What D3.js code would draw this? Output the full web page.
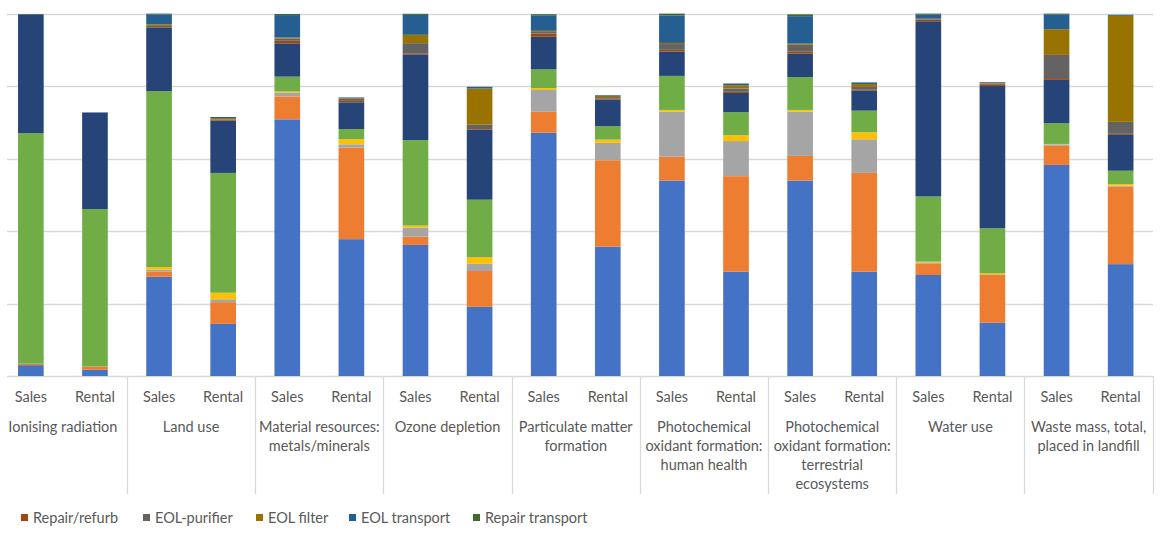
<!DOCTYPE html>
<html>
<head>
<meta charset="utf-8">
<script src="https://cdn.jsdelivr.net/npm/d3@7"></script>
<style>
  html, body { margin: 0; padding: 0; background: #fff; }
  svg { display: block; }
  text { font-family: Lato, "Liberation Sans", sans-serif; fill: #595959; }
</style>
</head>
<body>
<svg id="chart" width="1176" height="538"></svg>
<script>
// ---- Data ----
const categories = [
  ["Ionising radiation"],
  ["Land use"],
  ["Material resources:", "metals/minerals"],
  ["Ozone depletion"],
  ["Particulate matter", "formation"],
  ["Photochemical", "oxidant formation:", "human health"],
  ["Photochemical", "oxidant formation:", "terrestrial", "ecosystems"],
  ["Water use"],
  ["Waste mass, total,", "placed in landfill"]
];
const scenarios = ["Sales", "Rental"];

const seriesNames = ["Series A", "Series B", "Series C", "Series D", "Series E", "Series F",
  "Repair/refurb", "EOL-purifier", "EOL filter", "EOL transport", "Repair transport"];
const seriesColors = ["#4472C4", "#ED7D31", "#A5A5A5", "#FFC000", "#70AD47", "#264478",
  "#9E480E", "#636363", "#997300", "#255E91", "#43682B"];
const legendNames = ["Repair/refurb", "EOL-purifier", "EOL filter", "EOL transport", "Repair transport"];

// values in bar order: for each category, Sales then Rental
const sA = [3.0, 1.7, 27.4, 14.4, 70.9, 37.8, 36.2, 19.1, 67.2, 35.7, 54.0, 28.8, 54.0, 28.8, 27.9, 14.7, 58.3, 30.9];
const sB = [0.4, 0.9, 1.4, 6.0, 6.3, 25.3, 2.3, 9.9, 5.8, 23.9, 6.6, 26.4, 6.8, 27.3, 3.2, 13.2, 5.3, 21.4];
const sC = [0, 0, 0.6, 0.8, 1.1, 0.9, 2.5, 2.0, 6.0, 4.8, 12.4, 9.7, 12.2, 9.3, 0.3, 0.2, 0.4, 0.3];
const sD = [0, 0, 0.7, 1.8, 0.3, 1.4, 0.55, 1.8, 0.5, 0.9, 0.5, 1.6, 0.5, 1.9, 0.2, 0.3, 0.1, 0.4];
const sE = [63.7, 43.5, 48.6, 33.1, 4.1, 2.8, 23.6, 15.9, 5.2, 3.7, 9.4, 6.4, 9.1, 6.0, 18.0, 12.4, 5.7, 3.7];
const sF = [32.8, 26.7, 17.5, 14.4, 9.2, 7.4, 23.7, 19.3, 9.0, 7.4, 6.7, 5.3, 6.5, 5.6, 48.4, 39.3, 12.0, 9.9];
const repairRefurb = [0, 0, 0.2, 0.2, 0.7, 0.4, 0.3, 0.2, 0.9, 0.3, 0.5, 0.3, 0.6, 0.3, 0.5, 0.5, 0.5, 0.3];
const eolPurifier = [0, 0, 0.3, 0.15, 0.6, 0.55, 2.8, 1.2, 0.45, 0.35, 1.6, 0.9, 1.8, 0.65, 0.1, 0.2, 6.4, 3.3];
const eolFilter = [0, 0, 0.4, 0.4, 0.3, 0.2, 2.3, 10.0, 0.3, 0.3, 0.3, 0.9, 0.3, 0.8, 0.1, 0.2, 7.1, 29.3];
const eolTransport = [0, 0, 2.8, 0.3, 6.2, 0.2, 5.5, 0.5, 4.3, 0.2, 7.6, 0.5, 7.6, 0.45, 1.1, 0.2, 4.0, 0.3];
const repairTransport = [0.1, 0, 0.2, 0, 0.3, 0, 0.3, 0, 0.3, 0, 0.5, 0, 0.5, 0, 0.3, 0, 0.3, 0];

const yTicks = [0, 20, 40, 60, 80, 100];

const seriesValues = [sA, sB, sC, sD, sE, sF, repairRefurb, eolPurifier, eolFilter, eolTransport, repairTransport];

// ---- Build table ----
const rows = [];
categories.forEach((c, ci) => {
  scenarios.forEach((s, si) => {
    const idx = ci * 2 + si;
    const r = { key: idx, cat: ci, scen: s };
    seriesNames.forEach((n, k) => { r[n] = seriesValues[k][idx]; });
    rows.push(r);
  });
});

const svg = d3.select("#chart");
const plotLeft = -1.2, plotRight = 1152.7;
const gridLeft = 7, gridRight = 1153;

const x = d3.scaleBand()
  .domain(rows.map(d => d.key))
  .range([plotLeft, plotRight])
  .paddingInner(0.6)
  .paddingOuter(0.3);

const xCat = d3.scaleBand()
  .domain(d3.range(categories.length))
  .range([plotLeft, plotRight]);

const y = d3.scaleLinear().domain([0, 100]).range([376, 14]);

// gridlines
svg.append("g").selectAll("line")
  .data(yTicks)
  .join("line")
  .attr("x1", gridLeft).attr("x2", gridRight)
  .attr("y1", d => Math.round(y(d)) + 0.5).attr("y2", d => Math.round(y(d)) + 0.5)
  .attr("stroke", "#d9d9d9").attr("stroke-width", 1.3);

// stacked bars
const stack = d3.stack().keys(seriesNames);
const layers = stack(rows);
const color = d3.scaleOrdinal().domain(seriesNames).range(seriesColors);

svg.append("g").selectAll("g")
  .data(layers)
  .join("g")
  .attr("fill", d => color(d.key))
  .selectAll("rect")
  .data(d => d)
  .join("rect")
  .attr("x", d => x(d.data.key))
  .attr("width", x.bandwidth())
  .attr("y", d => y(d[1]))
  .attr("height", d => Math.max(0, y(d[0]) - y(d[1])));

// category separators (below axis)
svg.append("g").selectAll("line")
  .data(d3.range(1, categories.length + 1))
  .join("line")
  .attr("x1", i => Math.round(plotLeft + i * xCat.step()) + 0.5)
  .attr("x2", i => Math.round(plotLeft + i * xCat.step()) + 0.5)
  .attr("y1", 376).attr("y2", 494)
  .attr("stroke", "#d9d9d9").attr("stroke-width", 1.3);

// scenario labels
svg.append("g").selectAll("text")
  .data(rows)
  .join("text")
  .attr("x", d => x(d.key) + x.bandwidth() / 2)
  .attr("y", 397)
  .attr("dy", "0.35em")
  .attr("text-anchor", "middle")
  .style("font-size", "14.5px")
  .text(d => d.scen);

// category labels
const catG = svg.append("g").selectAll("text")
  .data(categories)
  .join("text")
  .attr("text-anchor", "middle")
  .style("font-size", "14.5px");
catG.selectAll("tspan")
  .data((d, i) => d.map((line, li) => ({ line, li, ci: i })))
  .join("tspan")
  .attr("x", d => xCat(d.ci) + xCat.bandwidth() / 2)
  .attr("y", d => 427 + d.li * 19)
  .attr("dy", "0.35em")
  .text(d => d.line);

// legend
const legendX = [21, 143, 256, 349, 473];
const lg = svg.append("g").selectAll("g")
  .data(legendNames)
  .join("g")
  .attr("transform", (d, i) => `translate(${legendX[i]},518)`);
lg.append("rect")
  .attr("x", 0).attr("y", -4).attr("width", 7).attr("height", 7)
  .attr("fill", d => color(d));
lg.append("text")
  .attr("x", 12).attr("y", 0).attr("dy", "0.35em")
  .style("font-size", "14.5px")
  .text(d => d);
</script>
</body>
</html>
